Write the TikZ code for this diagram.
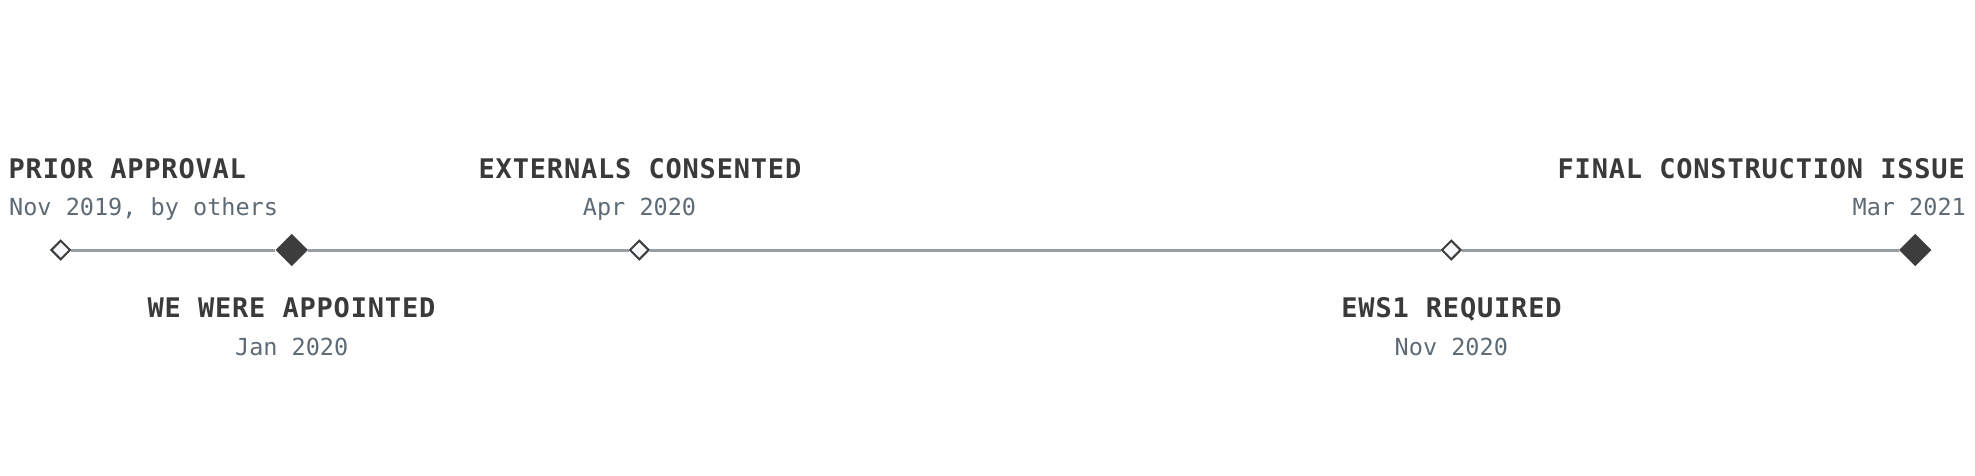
\documentclass[tikz,border=0pt]{standalone}
\usepackage{fontspec}
\usetikzlibrary{shapes.geometric}
\newfontfamily\monof{DejaVu Sans Mono}
\newfontfamily\ttlf[LetterSpace=3]{DejaVu Sans Mono}
\definecolor{ttlc}{HTML}{3A3A3A}
\definecolor{datec}{HTML}{5E6A75}
\definecolor{linec}{HTML}{969DA3}
\definecolor{diac}{HTML}{3D3D3D}
\definecolor{hollowc}{HTML}{F8F9FB}
\tikzset{
  ttl/.style={font=\ttlf\bfseries\fontsize{27}{30}\selectfont, text=ttlc, inner sep=0pt},
  dt/.style={font=\monof\fontsize{23.5}{28}\selectfont, text=datec, inner sep=0pt},
  hollow/.style={diamond, draw=diac, fill=hollowc, line width=2pt, minimum size=19.5pt, inner sep=0pt},
  solid dia/.style={diamond, fill=diac, minimum size=32.5pt, inner sep=0pt},
  tline/.style={draw=linec, line width=3pt}
}
\begin{document}
\begin{tikzpicture}[x=1pt,y=1pt]
\useasboundingbox (0,0) rectangle (1975,475);
% milestones
\node[hollow] (d1) at (60.7,225) {};
\node[solid dia] (d2) at (291.7,225) {};
\node[hollow] (d3) at (639.3,225) {};
\node[hollow] (d4) at (1451.3,225) {};
\node[solid dia] (d5) at (1915.3,225) {};
\draw[tline] (d1) -- (d2) -- (d3) -- (d4) -- (d5);
% labels above
\node[ttl, anchor=base west] (t1) at (8.5,297) {PRIOR APPROVAL};
\node[dt, anchor=base west] (s1) at (9,259.3) {Nov 2019, by others};
\node[ttl, anchor=base] (t3) at (640,297) {EXTERNALS CONSENTED};
\node[dt, anchor=base] (s3) at (639.5,259.3) {Apr 2020};
\node[ttl, anchor=base east] (t5) at (1965,297) {FINAL CONSTRUCTION ISSUE};
\node[dt, anchor=base east] (s5) at (1966,259.3) {Mar 2021};
% labels below
\node[ttl, anchor=base] (t2) at (291.5,157.5) {WE WERE APPOINTED};
\node[dt, anchor=base] (s2) at (291.7,120) {Jan 2020};
\node[ttl, anchor=base] (t4) at (1451.5,157.5) {EWS1 REQUIRED};
\node[dt, anchor=base] (s4) at (1451.3,120) {Nov 2020};
\end{tikzpicture}
\end{document}
